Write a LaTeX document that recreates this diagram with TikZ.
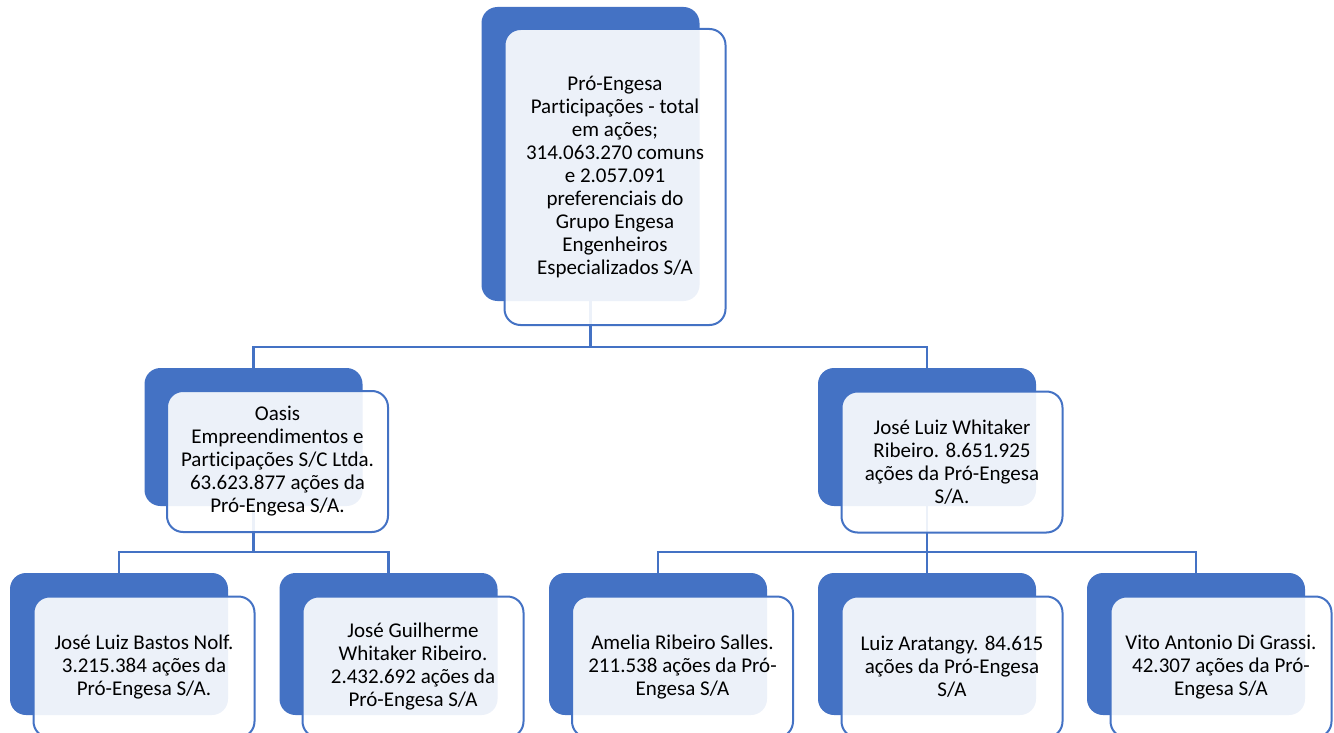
\documentclass[tikz,border=0pt]{standalone}
\usepackage{fontspec}
\setmainfont{Carlito}[Ligatures=NoCommon]
\usetikzlibrary{backgrounds}
\definecolor{obl}{HTML}{4472C4}
\begin{document}
\begin{tikzpicture}[x=1pt,y=-1pt,
  backbox/.style={rectangle, rounded corners=16pt, fill=obl, inner sep=0pt, minimum width=218pt},
  frontbox/.style={rectangle, rounded corners=16pt, fill=white, fill opacity=0.9, text opacity=1,
     draw=obl, line width=2pt, inner sep=0pt, minimum width=221pt, align=center,
     font=\fontsize{21}{23}\selectfont, text=black},
  conn/.style={draw=obl, line width=2.5pt}]
\useasboundingbox (0,0) rectangle (1334,733);
\clip (0,0) rectangle (1334,733);
% bus coordinates
\coordinate (bus1) at (590.5,347);
\coordinate (bus2) at (253.5,552);
\coordinate (bus3) at (927,552);
% back boxes
\node[backbox, minimum height=294pt] (tb) at (590.5,154) {};
\node[backbox, minimum height=138pt] (lb) at (253.5,437) {};
\node[backbox, minimum height=138pt] (rb) at (927,437) {};
\node[backbox, minimum height=142pt] (ab) at (119,644) {};
\node[backbox, minimum height=142pt] (bb) at (388.5,644) {};
\node[backbox, minimum height=142pt] (cb) at (658,644) {};
\node[backbox, minimum height=142pt] (db) at (927,644) {};
\node[backbox, minimum height=142pt] (eb) at (1196,644) {};
% connectors behind the boxes
\begin{scope}[on background layer]
\path[conn] (tb.south) -- (bus1);
\path[conn] (lb.north) |- (bus1) -| (rb.north);
\path[conn] (lb.south) -- (bus2);
\path[conn] (ab.north) |- (bus2) -| (bb.north);
\path[conn] (rb.south) -- (bus3);
\path[conn] (cb.north) |- (bus3) -| (eb.north);
\path[conn] (bus3) -- (db.north);
\end{scope}
% front boxes
\node[frontbox, minimum height=296pt] (tf) at (615,177)
  {Pró-Engesa\\Participações - total\\em ações;\\314.063.270 comuns\\e 2.057.091\\preferenciais do\\Grupo Engesa\\Engenheiros\\Especializados S/A};
\node[frontbox, minimum height=141pt] (lf) at (277.5,461.5)
  {Oasis\\Empreendimentos e\\Participações S/C Ltda.\\63.623.877 ações da\\Pró-Engesa S/A.};
\node[frontbox, minimum height=141pt] (rf) at (952,462)
  {José Luiz Whitaker\\Ribeiro. 8.651.925\\ações da Pró-Engesa\\S/A.};
\node[frontbox, minimum height=141pt] (af) at (144,667)
  {José Luiz Bastos Nolf.\\3.215.384 ações da\\Pró-Engesa S/A.};
\node[frontbox, minimum height=141pt] (bf) at (413,667)
  {José Guilherme\\Whitaker Ribeiro.\\2.432.692 ações da\\Pró-Engesa S/A};
\node[frontbox, minimum height=141pt] (cf) at (682.5,667)
  {Amelia Ribeiro Salles.\\211.538 ações da Pró-\\Engesa S/A};
\node[frontbox, minimum height=141pt] (df) at (952,667)
  {Luiz Aratangy. 84.615\\ações da Pró-Engesa\\S/A};
\node[frontbox, minimum height=141pt] (ef) at (1221,667)
  {Vito Antonio Di Grassi.\\42.307 ações da Pró-\\Engesa S/A};
\end{tikzpicture}
\end{document}
